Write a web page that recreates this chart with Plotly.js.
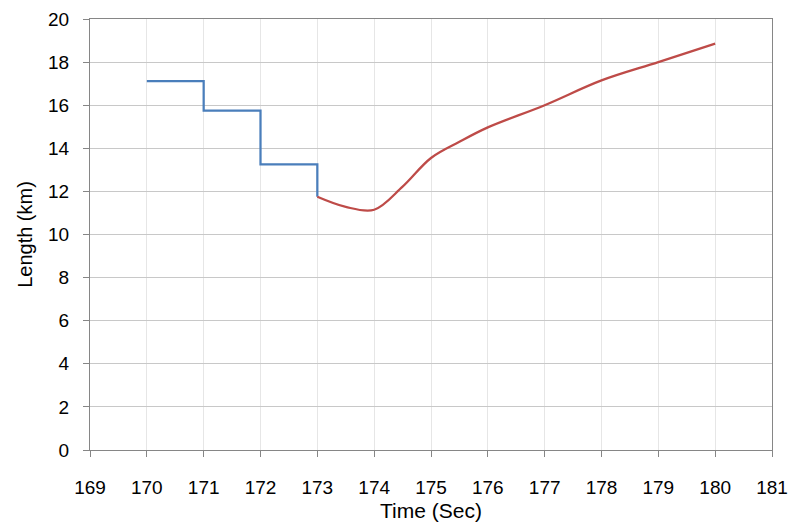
<!DOCTYPE html>
<html>
<head>
<meta charset="utf-8">
<script src="https://cdn.plot.ly/plotly-3.0.1.min.js"></script>
<style>html,body{margin:0;padding:0;background:#fff;}#chart{width:794px;height:529px;}</style>
</head>
<body>
<div id="chart"></div>
<script>
// Blue step series (Time in sec, Length in km)
const stepTime = [170, 171, 172, 173];
const stepLength = [17.12, 15.75, 13.25, 11.75];

// Red smoothed series
const curveTime = [173, 173.5, 174, 174.5, 175, 175.5, 176, 177, 178, 179, 180];
const curveLength = [11.75, 11.28, 11.15, 12.22, 13.55, 14.3, 14.97, 16.0, 17.15, 18.0, 18.86];

const xTicks = [169, 170, 171, 172, 173, 174, 175, 176, 177, 178, 179, 180, 181];
const yTicks = [0, 2, 4, 6, 8, 10, 12, 14, 16, 18, 20];

const traces = [
  {x: stepTime, y: stepLength, mode: 'lines', line: {color: '#4a7ebb', width: 2.25, shape: 'hv'}, hoverinfo: 'skip'},
  {x: curveTime, y: curveLength, mode: 'lines', line: {color: '#be4b48', width: 2.25, shape: 'spline', smoothing: 1}, hoverinfo: 'skip'}
];

const layout = {
  width: 794, height: 529,
  margin: {l: 90, r: 22, t: 19, b: 79},
  paper_bgcolor: '#fff', plot_bgcolor: '#fff',
  showlegend: false,
  font: {family: 'Liberation Sans, Arial, sans-serif', size: 19, color: '#000'},
  xaxis: {
    range: [169, 181], tickvals: xTicks, ticktext: xTicks.map(String),
    showgrid: true, gridcolor: '#e6e6e6', gridwidth: 1,
    showline: true, linecolor: '#868686', linewidth: 1, mirror: true,
    ticks: 'outside', ticklen: 6, tickcolor: '#868686',
    ticklabelstandoff: 14, zeroline: false,
    title: {text: 'Time (Sec)', font: {size: 21}, standoff: 6}
  },
  yaxis: {
    range: [0, 20], tickvals: yTicks, ticktext: yTicks.map(String),
    showgrid: true, gridcolor: '#c8c8c8', gridwidth: 1,
    showline: true, linecolor: '#868686', linewidth: 1, mirror: true,
    ticks: 'outside', ticklen: 6, tickcolor: '#868686',
    ticklabelstandoff: 10, zeroline: false,
    title: {text: 'Length (km)', font: {size: 20}, standoff: 10}
  }
};

Plotly.newPlot('chart', traces, layout, {displayModeBar: false, staticPlot: true});
</script>
</body>
</html>
